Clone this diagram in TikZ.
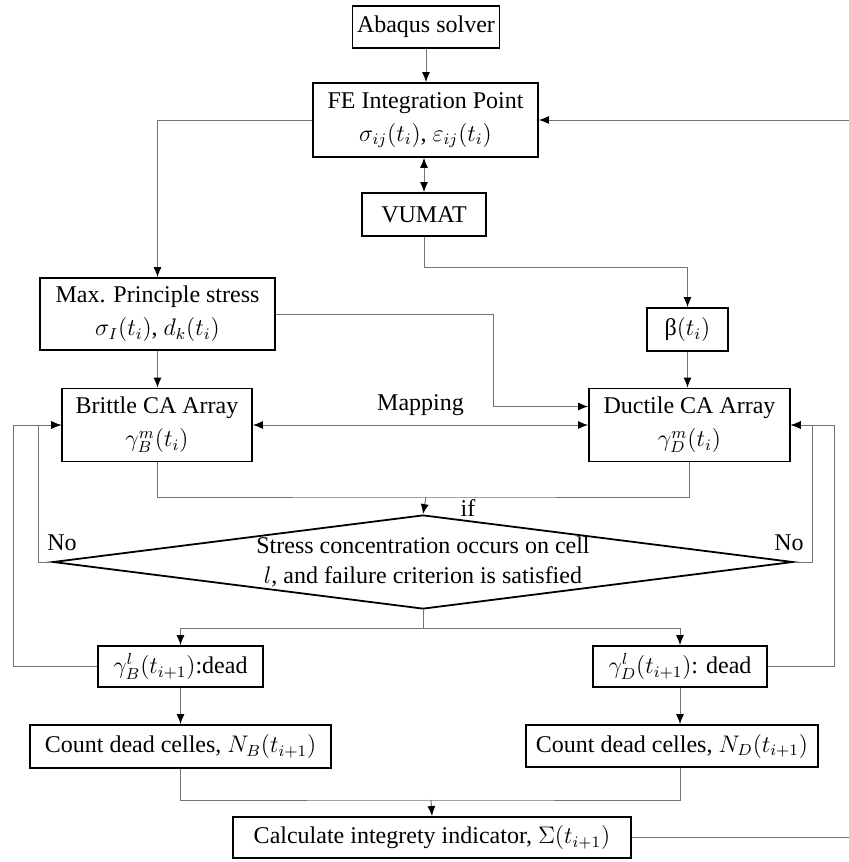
\documentclass[tikz,border=0pt]{standalone}
\usepackage{fontspec}
\setmainfont{Liberation Serif}[Ligatures=TeX]
\usetikzlibrary{shapes.geometric, positioning, arrows.meta}

\begin{document}
\begin{tikzpicture}[x=0.5pt, y=-0.5pt,
  proc/.style={draw, line width=0.9pt, align=center, inner sep=0pt, font=\rmfamily\fontsize{12}{16.5}\selectfont},
  dec/.style={draw, diamond, line width=0.9pt, inner sep=0pt},
  lbl/.style={font=\rmfamily\fontsize{12}{15}\selectfont},
  link/.style={draw=black!55, line width=0.5pt},
  >={Latex[length=5pt, width=4pt, color=black]}]
  \useasboundingbox (0,0) rectangle (849,862);
  \node[proc, minimum width=73.5pt, minimum height=21pt] (abaqus) at (426,27) {Abaqus solver};
  \node[proc, minimum width=112.5pt, minimum height=37pt] (fe) at (425.5,120) {FE Integration Point\\$\sigma_{ij}(t_i)$, $\varepsilon_{ij}(t_i)$};
  \node[proc, minimum width=62pt, minimum height=21.5pt] (vumat) at (424,214.5) {VUMAT};
  \node[proc, minimum width=40.5pt, minimum height=21.5pt] (beta) at (687.5,329.5) {β$(t_i)$};
  \node[proc, minimum width=117.5pt, minimum height=36pt] (maxps) at (157.5,314) {Max. Principle stress\\$\sigma_I(t_i)$, $d_k(t_i)$};
  \node[proc, minimum width=95pt, minimum height=36.5pt] (brittle) at (157,425) {Brittle CA Array\\$\gamma_B^m(t_i)$};
  \node[proc, minimum width=100.5pt, minimum height=36.5pt] (ductile) at (689.5,425) {Ductile CA Array\\$\gamma_D^m(t_i)$};
  \node[dec, minimum width=370pt, minimum height=47pt] (cond) at (423,562) {};
  \node[lbl, align=center] (condtxt) at (cond) {Stress concentration occurs on cell\\$l$, and failure criterion is satisfied};
  \node[proc, minimum width=82.5pt, minimum height=20.5pt] (deadB) at (180.5,666.5) {$\gamma_B^l(t_{i+1})$:dead};
  \node[proc, minimum width=87pt, minimum height=20.5pt] (deadD) at (680,666.5) {$\gamma_D^l(t_{i+1})$: dead};
  \node[proc, minimum width=150.5pt, minimum height=21.5pt] (countB) at (180.5,746.5) {Count dead celles, $N_B(t_{i+1})$};
  \node[proc, minimum width=146pt, minimum height=21pt] (countD) at (672,746) {Count dead celles, $N_D(t_{i+1})$};
  \node[proc, minimum width=199pt, minimum height=20.5pt] (calc) at (432,837.5) {Calculate integrety indicator, $\Sigma(t_{i+1})$};
  \node[lbl] (ifl) at (468,508) {if};
  \node[lbl] (noL) at (62,543) {No};
  \node[lbl] (noR) at (789,543) {No};
  \coordinate (join) at (426,497);
  \coordinate (split) at (423,628);
  \coordinate (sum) at (431,800);
  \coordinate (lin) at (38,0);
  \coordinate (lout) at (13,0);
  \coordinate (rin) at (812,0);
  \coordinate (rout) at (834,0);
  \coordinate (rim) at (853,0);
  % top part
  \draw[link,->] (abaqus.south) -- (abaqus.south |- fe.north);
  \draw[link,<->] (vumat.north |- fe.south) -- (vumat.north);
  \draw[link,->] (vumat.south) -- ++(0,31) -| (beta.north);
  \draw[link,->] (fe.west) -| (maxps.north);
  \draw[link,->] (maxps.south) -- (maxps.south |- brittle.north);
  \draw[link,->] (beta.south) -- (beta.south |- ductile.north);
  \draw[link,->] (maxps.east) -- ++(218,0) |- ([yshift=9.25pt]ductile.west);
  \draw[link,<->] (brittle.east) -- node[lbl, above=1pt] {Mapping} (ductile.west);
  % decision
  \draw[link] (brittle.south) |- (join) -| (ductile.south);
  \draw[link,->] (join) -- (cond.north);
  \draw[link] (cond.south) -- (split);
  \draw[link,->] (split) -| (deadB.north);
  \draw[link,->] (split) -| (deadD.north);
  \draw[link,->] (cond.west) -- (lin |- cond.west) -- (lin |- brittle.west) -- (brittle.west);
  \draw[link,->] (deadB.west) -- (lout |- deadB.west) -- (lout |- brittle.west) -- (brittle.west);
  \draw[link,->] (cond.east) -- (rin |- cond.east) -- (rin |- ductile.east) -- (ductile.east);
  \draw[link,->] (deadD.east) -- (rout |- deadD.east) -- (rout |- ductile.east) -- (ductile.east);
  % counting
  \draw[link,->] (deadB.south) -- (deadB.south |- countB.north);
  \draw[link,->] (deadD.south) -- (deadD.south |- countD.north);
  \draw[link] (countB.south) |- (sum) -| (deadD.south |- countD.south);
  \draw[link,->] (sum) -- (calc.north);
  \draw[link,->] (calc.east) -- (rim |- calc.east) -- (rim |- fe.east) -- (fe.east);
\end{tikzpicture}
\end{document}
